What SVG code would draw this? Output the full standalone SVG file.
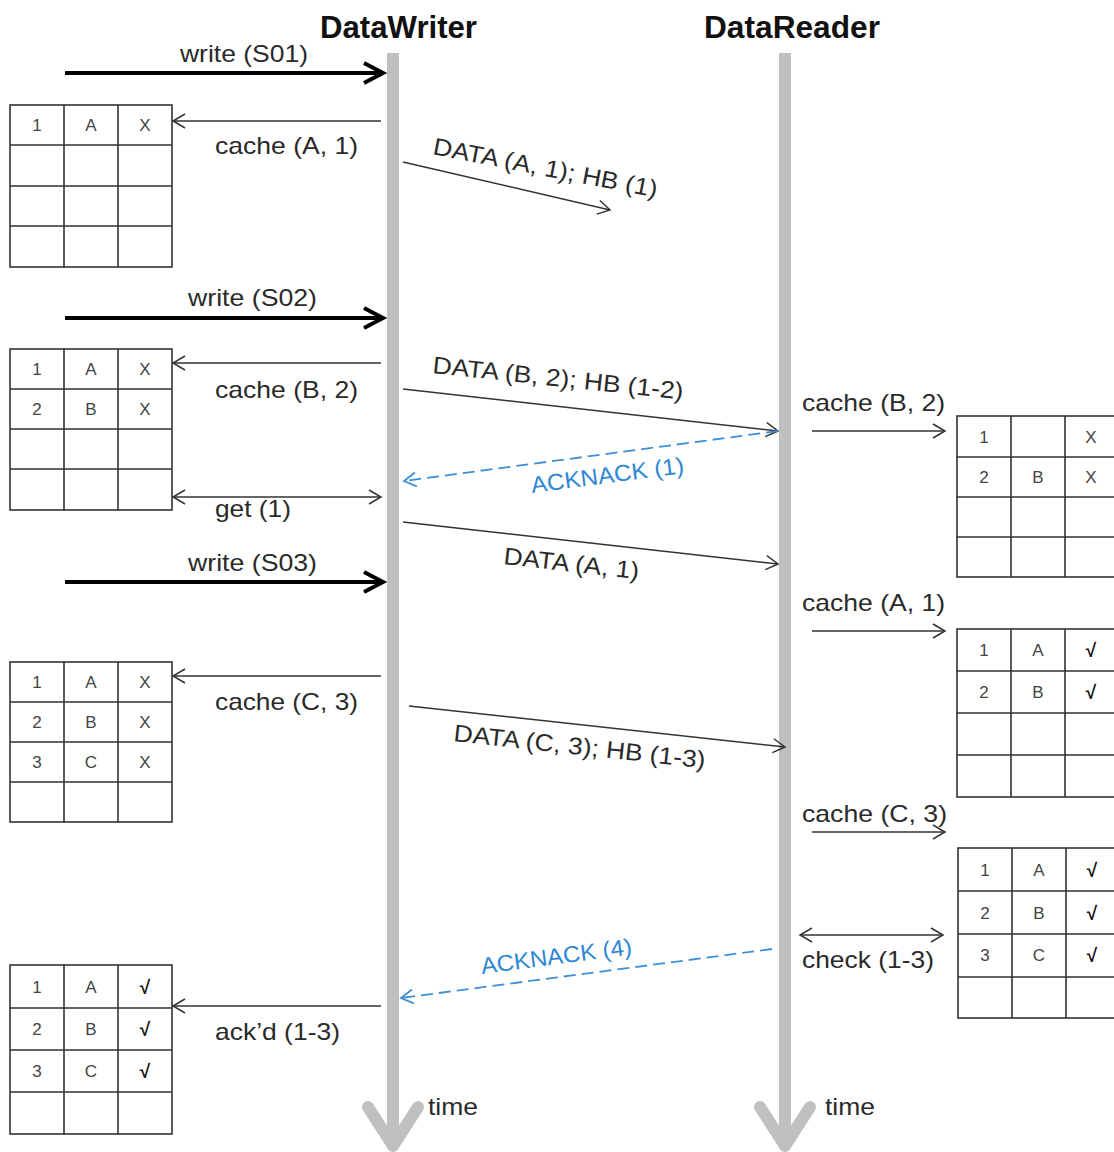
<svg xmlns="http://www.w3.org/2000/svg" width="1114" height="1152" viewBox="0 0 1114 1152">
<style>
  text { font-family: "Liberation Sans", Arial, sans-serif; }
  .hdr { font-size: 31px; font-weight: bold; fill: #111; }
  .lbl { font-size: 24px; fill: #2a2a2a; }
  .blue { font-size: 23px; fill: #2f87d2; }
  .cell { font-size: 17px; fill: #444; text-anchor: middle; }
  .chk { font-size: 19px; fill: #111; text-anchor: middle; font-weight: bold; }
  .grid { fill: none; stroke: #333; stroke-width: 1.6; }
  .life { fill: #c0c0c0; }
  .lifehead { fill: none; stroke: #c0c0c0; stroke-width: 12; stroke-linecap: round; stroke-linejoin: round; }
  .thick { stroke: #000; stroke-width: 4; fill: none; }
  .thin { stroke: #333; stroke-width: 1.5; fill: none; }
  .dash { stroke: #3d8fd6; stroke-width: 1.8; fill: none; stroke-dasharray: 12 6; }
</style>
<defs>
  <marker id="bigArrow" viewBox="0 0 24 24" refX="21" refY="12" markerWidth="24" markerHeight="24" markerUnits="userSpaceOnUse" orient="auto" overflow="visible">
    <path d="M2,2 L21,12 L2,22" fill="none" stroke="#000" stroke-width="4"/>
  </marker>
  <marker id="open" viewBox="0 0 16 16" refX="14" refY="8" markerWidth="16" markerHeight="16" markerUnits="userSpaceOnUse" orient="auto-start-reverse" overflow="visible">
    <path d="M2,1 L14,8 L2,15" fill="none" stroke="#333" stroke-width="1.5"/>
  </marker>
  <marker id="openBlue" viewBox="0 0 16 16" refX="14" refY="8" markerWidth="16" markerHeight="16" markerUnits="userSpaceOnUse" orient="auto" overflow="visible">
    <path d="M2,1 L14,8 L2,15" fill="none" stroke="#3d8fd6" stroke-width="1.8"/>
  </marker>
</defs>
<rect width="1114" height="1152" fill="#fff"/>

<g id="datawriter">
  <text class="hdr" x="320" y="38" textLength="157" lengthAdjust="spacingAndGlyphs">DataWriter</text>
  <rect class="life" x="387" y="53" width="12" height="1093"/>
  <path class="lifehead" d="M368,1107 L393,1146 L418,1107"/>
  <text class="lbl" x="428" y="1115" textLength="50" lengthAdjust="spacingAndGlyphs">time</text>
</g>

<g id="datareader">
  <text class="hdr" x="704" y="38" textLength="176" lengthAdjust="spacingAndGlyphs">DataReader</text>
  <rect class="life" x="779" y="53" width="12" height="1093"/>
  <path class="lifehead" d="M760,1107 L785,1146 L810,1107"/>
  <text class="lbl" x="825" y="1115" textLength="50" lengthAdjust="spacingAndGlyphs">time</text>
</g>

<g id="writer-cache-1">
  <rect class="grid" x="10" y="105" width="162" height="162"/>
  <path class="grid" d="M64,105 V267 M118,105 V267 M10,145 H172 M10,186 H172 M10,226 H172"/>
  <text class="cell" x="37" y="131">1</text><text class="cell" x="91" y="131">A</text><text class="cell" x="145" y="131">X</text>
</g>

<g id="writer-cache-2">
  <rect class="grid" x="10" y="349" width="162" height="161"/>
  <path class="grid" d="M64,349 V510 M118,349 V510 M10,389 H172 M10,429 H172 M10,469 H172"/>
  <text class="cell" x="37" y="375">1</text><text class="cell" x="91" y="375">A</text><text class="cell" x="145" y="375">X</text>
  <text class="cell" x="37" y="415">2</text><text class="cell" x="91" y="415">B</text><text class="cell" x="145" y="415">X</text>
</g>

<g id="writer-cache-3">
  <rect class="grid" x="10" y="662" width="162" height="160"/>
  <path class="grid" d="M64,662 V822 M118,662 V822 M10,702 H172 M10,742 H172 M10,782 H172"/>
  <text class="cell" x="37" y="688">1</text><text class="cell" x="91" y="688">A</text><text class="cell" x="145" y="688">X</text>
  <text class="cell" x="37" y="728">2</text><text class="cell" x="91" y="728">B</text><text class="cell" x="145" y="728">X</text>
  <text class="cell" x="37" y="768">3</text><text class="cell" x="91" y="768">C</text><text class="cell" x="145" y="768">X</text>
</g>

<g id="writer-cache-4">
  <rect class="grid" x="10" y="965" width="162" height="169"/>
  <path class="grid" d="M64,965 V1134 M118,965 V1134 M10,1008 H172 M10,1050 H172 M10,1092 H172"/>
  <text class="cell" x="37" y="993">1</text><text class="cell" x="91" y="993">A</text><text class="chk" x="145" y="994">√</text>
  <text class="cell" x="37" y="1035">2</text><text class="cell" x="91" y="1035">B</text><text class="chk" x="145" y="1036">√</text>
  <text class="cell" x="37" y="1077">3</text><text class="cell" x="91" y="1077">C</text><text class="chk" x="145" y="1078">√</text>
</g>

<g id="reader-cache-1">
  <rect class="grid" x="957" y="416" width="170" height="161"/>
  <path class="grid" d="M1011,416 V577 M1065,416 V577 M957,457 H1127 M957,497 H1127 M957,537 H1127"/>
  <text class="cell" x="984" y="443">1</text><text class="cell" x="1091" y="443">X</text>
  <text class="cell" x="984" y="483">2</text><text class="cell" x="1038" y="483">B</text><text class="cell" x="1091" y="483">X</text>
</g>

<g id="reader-cache-2">
  <rect class="grid" x="957" y="629" width="170" height="168"/>
  <path class="grid" d="M1011,629 V797 M1065,629 V797 M957,671 H1127 M957,713 H1127 M957,755 H1127"/>
  <text class="cell" x="984" y="656">1</text><text class="cell" x="1038" y="656">A</text><text class="chk" x="1091" y="657">√</text>
  <text class="cell" x="984" y="698">2</text><text class="cell" x="1038" y="698">B</text><text class="chk" x="1091" y="699">√</text>
</g>

<g id="reader-cache-3">
  <rect class="grid" x="958" y="848" width="170" height="170"/>
  <path class="grid" d="M1012,848 V1018 M1066,848 V1018 M958,891 H1128 M958,934 H1128 M958,977 H1128"/>
  <text class="cell" x="985" y="876">1</text><text class="cell" x="1039" y="876">A</text><text class="chk" x="1092" y="877">√</text>
  <text class="cell" x="985" y="919">2</text><text class="cell" x="1039" y="919">B</text><text class="chk" x="1092" y="920">√</text>
  <text class="cell" x="985" y="961">3</text><text class="cell" x="1039" y="961">C</text><text class="chk" x="1092" y="962">√</text>
</g>

<g id="connectors">
  <!-- writes -->
  <line class="thick" x1="65" y1="73" x2="383" y2="73" marker-end="url(#bigArrow)"/>
  <text class="lbl" x="180" y="62" textLength="128" lengthAdjust="spacingAndGlyphs">write (S01)</text>
  <line class="thick" x1="65" y1="318" x2="383" y2="318" marker-end="url(#bigArrow)"/>
  <text class="lbl" x="188" y="306" textLength="129" lengthAdjust="spacingAndGlyphs">write (S02)</text>
  <line class="thick" x1="65" y1="582" x2="383" y2="582" marker-end="url(#bigArrow)"/>
  <text class="lbl" x="188" y="571" textLength="129" lengthAdjust="spacingAndGlyphs">write (S03)</text>

  <!-- writer cache -->
  <line class="thin" x1="381" y1="121" x2="173" y2="121" marker-end="url(#open)"/>
  <text class="lbl" x="215" y="154" textLength="143" lengthAdjust="spacingAndGlyphs">cache (A, 1)</text>
  <line class="thin" x1="381" y1="363" x2="173" y2="363" marker-end="url(#open)"/>
  <text class="lbl" x="215" y="398" textLength="143" lengthAdjust="spacingAndGlyphs">cache (B, 2)</text>
  <line class="thin" x1="173" y1="497" x2="381" y2="497" marker-start="url(#open)" marker-end="url(#open)"/>
  <text class="lbl" x="215" y="517" textLength="76" lengthAdjust="spacingAndGlyphs">get (1)</text>
  <line class="thin" x1="381" y1="676" x2="173" y2="676" marker-end="url(#open)"/>
  <text class="lbl" x="215" y="710" textLength="143" lengthAdjust="spacingAndGlyphs">cache (C, 3)</text>
  <line class="thin" x1="381" y1="1006" x2="173" y2="1006" marker-end="url(#open)"/>
  <text class="lbl" x="215" y="1040" textLength="125" lengthAdjust="spacingAndGlyphs">ack’d (1-3)</text>

  <!-- messages -->
  <line class="thin" x1="403" y1="162" x2="610" y2="210" marker-end="url(#open)"/>
  <text class="lbl" transform="translate(432,154) rotate(11)" textLength="228" lengthAdjust="spacingAndGlyphs">DATA (A, 1); HB (1)</text>

  <line class="thin" x1="403" y1="389" x2="778" y2="431" marker-end="url(#open)"/>
  <text class="lbl" transform="translate(432,373) rotate(6)" textLength="252" lengthAdjust="spacingAndGlyphs">DATA (B, 2); HB (1-2)</text>

  <line class="dash" x1="778" y1="431" x2="404" y2="481" marker-end="url(#openBlue)"/>
  <text class="blue" transform="translate(532,493) rotate(-7.5)" textLength="154" lengthAdjust="spacingAndGlyphs">ACKNACK (1)</text>

  <line class="thin" x1="403" y1="522" x2="778" y2="564" marker-end="url(#open)"/>
  <text class="lbl" transform="translate(503,564) rotate(6.4)" textLength="136" lengthAdjust="spacingAndGlyphs">DATA (A, 1)</text>

  <line class="thin" x1="409" y1="706" x2="785" y2="747" marker-end="url(#open)"/>
  <text class="lbl" transform="translate(453,741) rotate(6.2)" textLength="253" lengthAdjust="spacingAndGlyphs">DATA (C, 3); HB (1-3)</text>

  <line class="dash" x1="772" y1="949" x2="401" y2="998" marker-end="url(#openBlue)"/>
  <text class="blue" transform="translate(482,974) rotate(-7.5)" textLength="152" lengthAdjust="spacingAndGlyphs">ACKNACK (4)</text>

  <!-- reader cache -->
  <line class="thin" x1="812" y1="431" x2="945" y2="431" marker-end="url(#open)"/>
  <text class="lbl" x="802" y="411" textLength="143" lengthAdjust="spacingAndGlyphs">cache (B, 2)</text>
  <line class="thin" x1="812" y1="631" x2="945" y2="631" marker-end="url(#open)"/>
  <text class="lbl" x="802" y="611" textLength="143" lengthAdjust="spacingAndGlyphs">cache (A, 1)</text>
  <line class="thin" x1="812" y1="832" x2="945" y2="832" marker-end="url(#open)"/>
  <text class="lbl" x="802" y="822" textLength="145" lengthAdjust="spacingAndGlyphs">cache (C, 3)</text>
  <line class="thin" x1="800" y1="935" x2="943" y2="935" marker-start="url(#open)" marker-end="url(#open)"/>
  <text class="lbl" x="802" y="968" textLength="132" lengthAdjust="spacingAndGlyphs">check (1-3)</text>
</g>
</svg>
